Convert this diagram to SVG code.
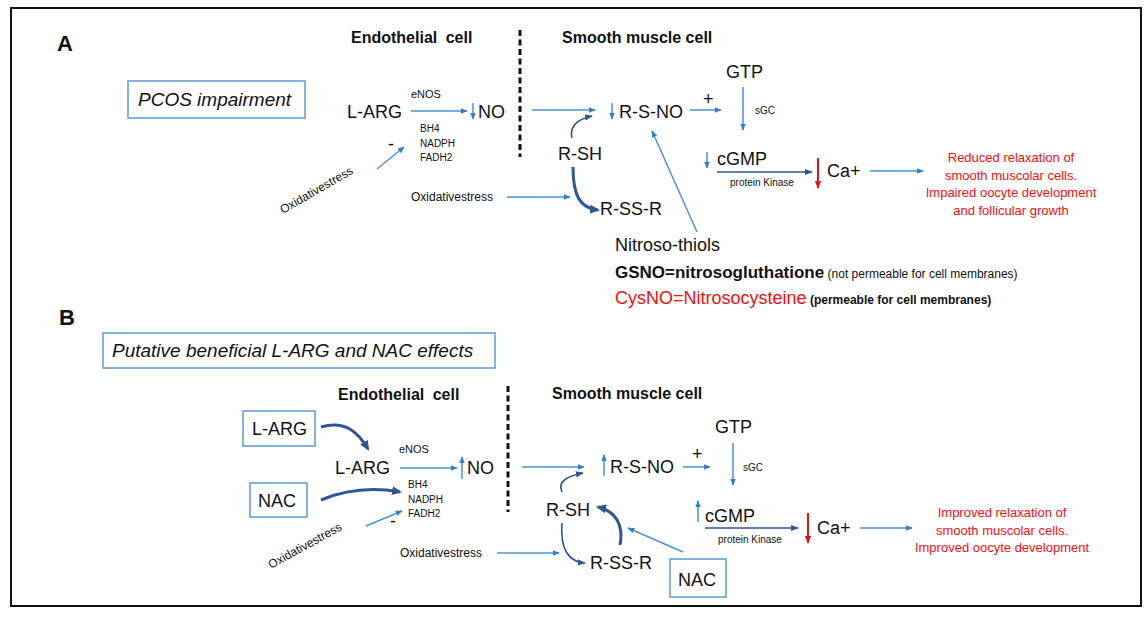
<svg xmlns="http://www.w3.org/2000/svg" width="1148" height="617" viewBox="0 0 1148 617">
<style>
text{font-family:"Liberation Sans",Arial,sans-serif;fill:#111}
.h{font-weight:bold;font-size:16px}
.big{font-size:18px}
.sm{font-size:11px}
.ox{font-size:12px}
.xs{font-size:10px}
.red{fill:#f01010}
.lbl{font-size:22px;font-weight:bold}
.ital{font-style:italic;font-size:19px}
.box{fill:#fff;stroke:#5b9bd5;stroke-width:1.5}
.a{fill:none;stroke:#4a93d8;stroke-width:1.5;marker-end:url(#ah)}
.d{fill:none;stroke:#2f5597;stroke-width:1.6;marker-end:url(#ahd)}
.dt{fill:none;stroke:#2f5597;stroke-width:3;marker-end:url(#ahd2)}
.r{fill:none;stroke:#e81010;stroke-width:2;marker-end:url(#ahr)}
.dash{stroke:#111;stroke-width:3;stroke-dasharray:6,3.5}
</style>
<defs>
<marker id="ah" viewBox="0 0 10 10" refX="9" refY="5" markerWidth="7" markerHeight="7" markerUnits="userSpaceOnUse" orient="auto"><path d="M0,1 L10,5 L0,9 z" fill="#2f7fd0"/></marker>
<marker id="ahd" viewBox="0 0 10 10" refX="9" refY="5" markerWidth="8" markerHeight="8" markerUnits="userSpaceOnUse" orient="auto"><path d="M0,1 L10,5 L0,9 z" fill="#2f5597"/></marker>
<marker id="ahd2" viewBox="0 0 10 10" refX="8" refY="5" markerWidth="10" markerHeight="10" markerUnits="userSpaceOnUse" orient="auto"><path d="M0,0.5 L10,5 L0,9.5 z" fill="#2f5597"/></marker>
<marker id="ahr" viewBox="0 0 10 10" refX="9" refY="5" markerWidth="8" markerHeight="8" markerUnits="userSpaceOnUse" orient="auto"><path d="M0,1 L10,5 L0,9 z" fill="#e81010"/></marker>
</defs>
<rect x="11" y="8" width="1130" height="598" fill="#fff" stroke="#111" stroke-width="2"/>

<!-- Panel A -->
<g id="panelA-labels">
<text class="lbl" x="57" y="51">A</text>
<text class="h" x="351" y="43" word-spacing="4">Endothelial cell</text>
<text class="h" x="562" y="43">Smooth muscle cell</text>
<line class="dash" x1="520" y1="30" x2="520" y2="157"/>
</g>
<g id="A-pcos"><rect class="box" x="128" y="81" width="177" height="37"/><text class="ital" x="138" y="106">PCOS impairment</text></g>
<g id="A-larg"><text class="big" x="347" y="118">L-ARG</text></g>
<g id="A-enos"><text class="sm" x="411" y="98">eNOS</text></g>
<g id="A-no"><text class="big" x="478" y="118">NO</text></g>
<g id="A-cof"><text class="xs" x="420" y="132">BH4</text><text class="xs" x="420" y="147">NADPH</text><text class="xs" x="420" y="161">FADH2</text></g>
<g id="A-minus"><text class="big" x="388" y="150">-</text></g>
<g id="A-ox1"><text class="ox" transform="translate(283,214) rotate(-30)">Oxidativestress</text></g>
<g id="A-rsno"><text class="big" x="619" y="118">R-S-NO</text></g>
<g id="A-rsh"><text class="big" x="558" y="160">R-SH</text></g>
<g id="A-ox2"><text class="ox" x="411" y="201">Oxidativestress</text></g>
<g id="A-rssr"><text class="big" x="600" y="215">R-SS-R</text></g>
<g id="A-plus"><text class="big" x="703" y="105">+</text></g>
<g id="A-gtp"><text class="big" x="726" y="78">GTP</text></g>
<g id="A-sgc"><text class="xs" x="755" y="114">sGC</text></g>
<g id="A-cgmp"><text class="big" x="717" y="165">cGMP</text></g>
<g id="A-pk"><text class="xs" x="730" y="186">protein Kinase</text></g>
<g id="A-ca"><text class="big" x="827" y="177">Ca+</text></g>
<g id="A-out"><text class="red" font-size="13" text-anchor="middle" x="1011" y="162">Reduced relaxation of</text><text class="red" font-size="13" text-anchor="middle" x="1011" y="180">smooth muscolar cells.</text><text class="red" font-size="13" text-anchor="middle" x="1011" y="197">Impaired oocyte development</text><text class="red" font-size="13" text-anchor="middle" x="1011" y="215">and follicular growth</text></g>
<g id="A-nitroso">
<text class="big" x="615" y="251">Nitroso-thiols</text>
<text x="615" y="278"><tspan font-weight="bold" font-size="17">GSNO=nitrosogluthatione</tspan><tspan font-size="12"> (not permeable for cell membranes)</tspan></text>
<text x="615" y="304"><tspan class="red" font-size="18">CysNO=Nitrosocysteine</tspan><tspan font-size="12" font-weight="bold"> (permeable for cell membranes)</tspan></text>
</g>

<!-- Panel B -->
<g id="panelB-labels">
<text class="lbl" x="59" y="325">B</text>
<text class="h" x="338" y="400" word-spacing="4">Endothelial cell</text>
<text class="h" x="552" y="399">Smooth muscle cell</text>
<line class="dash" x1="508" y1="386" x2="508" y2="512"/>
</g>
<g id="B-title"><rect class="box" x="103" y="333" width="392" height="35"/><text class="ital" x="112" y="357">Putative beneficial L-ARG and NAC effects</text></g>
<g id="B-largbox"><rect class="box" x="243" y="411" width="72" height="35"/><text class="big" x="252" y="435">L-ARG</text></g>
<g id="B-nacbox"><rect class="box" x="250" y="483" width="57" height="34"/><text class="big" x="258" y="507">NAC</text></g>
<g id="B-larg"><text class="big" x="335" y="474">L-ARG</text></g>
<g id="B-enos"><text class="sm" x="399" y="453">eNOS</text></g>
<g id="B-no"><text class="big" x="467" y="474">NO</text></g>
<g id="B-cof"><text class="xs" x="408" y="488">BH4</text><text class="xs" x="408" y="503">NADPH</text><text class="xs" x="408" y="517">FADH2</text></g>
<g id="B-minus"><text class="big" x="390" y="527">-</text></g>
<g id="B-ox1"><text class="ox" transform="translate(271,569) rotate(-29)">Oxidativestress</text></g>
<g id="B-rsno"><text class="big" x="610" y="473">R-S-NO</text></g>
<g id="B-rsh"><text class="big" x="546" y="516">R-SH</text></g>
<g id="B-ox2"><text class="ox" x="400" y="557">Oxidativestress</text></g>
<g id="B-rssr"><text class="big" x="590" y="569">R-SS-R</text></g>
<g id="B-nac2"><rect class="box" x="670" y="559" width="56" height="38"/><text class="big" x="678" y="586">NAC</text></g>
<g id="B-plus"><text class="big" x="692" y="460">+</text></g>
<g id="B-gtp"><text class="big" x="715" y="433">GTP</text></g>
<g id="B-sgc"><text class="xs" x="743" y="471">sGC</text></g>
<g id="B-cgmp"><text class="big" x="705" y="522">cGMP</text></g>
<g id="B-pk"><text class="xs" x="718" y="543">protein Kinase</text></g>
<g id="B-ca"><text class="big" x="817" y="534">Ca+</text></g>
<g id="B-out"><text class="red" font-size="13" text-anchor="middle" x="1002" y="517">Improved relaxation of</text><text class="red" font-size="13" text-anchor="middle" x="1002" y="535">smooth muscolar cells.</text><text class="red" font-size="13" text-anchor="middle" x="1002" y="552">Improved oocyte development</text></g>

<g id="connectors">
<!-- A -->
<line class="a" x1="411" y1="111" x2="467" y2="111"/>
<line class="a" x1="473" y1="103" x2="473" y2="119"/>
<line class="a" x1="377" y1="169" x2="404" y2="147"/>
<line class="a" x1="532" y1="110" x2="595" y2="110"/>
<line class="a" x1="612" y1="103" x2="612" y2="119"/>
<path class="d" d="M572,138 C569,126 578,119 592,116"/>
<line class="a" x1="507" y1="197" x2="570" y2="197"/>
<path class="dt" d="M573,167 C573,196 580,208 598,210"/>
<line class="a" x1="697" y1="232" x2="652" y2="131"/>
<line class="a" x1="690" y1="110" x2="721" y2="110"/>
<line class="a" x1="743" y1="87" x2="743" y2="130"/>
<line class="a" x1="707" y1="152" x2="707" y2="168"/>
<line class="d" stroke-width="2" x1="717" y1="172" x2="812" y2="172"/>
<line class="r" x1="818" y1="158" x2="818" y2="188"/>
<line class="a" x1="870" y1="171" x2="923" y2="171"/>
<!-- B -->
<path class="dt" d="M321,427 C345,420 358,432 368,449"/>
<path class="dt" d="M321,500 C345,490 372,487 400,492"/>
<line class="a" x1="400" y1="468" x2="457" y2="468"/>
<line class="a" x1="462" y1="479" x2="462" y2="457"/>
<line class="a" x1="366" y1="526" x2="402" y2="511"/>
<line class="a" x1="522" y1="467" x2="584" y2="467"/>
<line class="a" x1="604" y1="476" x2="604" y2="455"/>
<path class="d" d="M562,492 C557,481 568,476 583,473"/>
<line class="a" x1="497" y1="553" x2="559" y2="553"/>
<path class="d" d="M562,523 C560,550 569,562 585,563"/>
<path class="dt" d="M620,545 C624,524 615,511 598,507"/>
<line class="a" x1="683" y1="552" x2="628" y2="528"/>
<line class="a" x1="683" y1="467" x2="710" y2="467"/>
<line class="a" x1="733" y1="443" x2="733" y2="485"/>
<line class="a" x1="698" y1="522" x2="698" y2="501"/>
<line class="d" stroke-width="2" x1="705" y1="528" x2="798" y2="528"/>
<line class="r" x1="808" y1="513" x2="808" y2="543"/>
<line class="a" x1="860" y1="528" x2="912" y2="528"/>
</g>
</svg>
